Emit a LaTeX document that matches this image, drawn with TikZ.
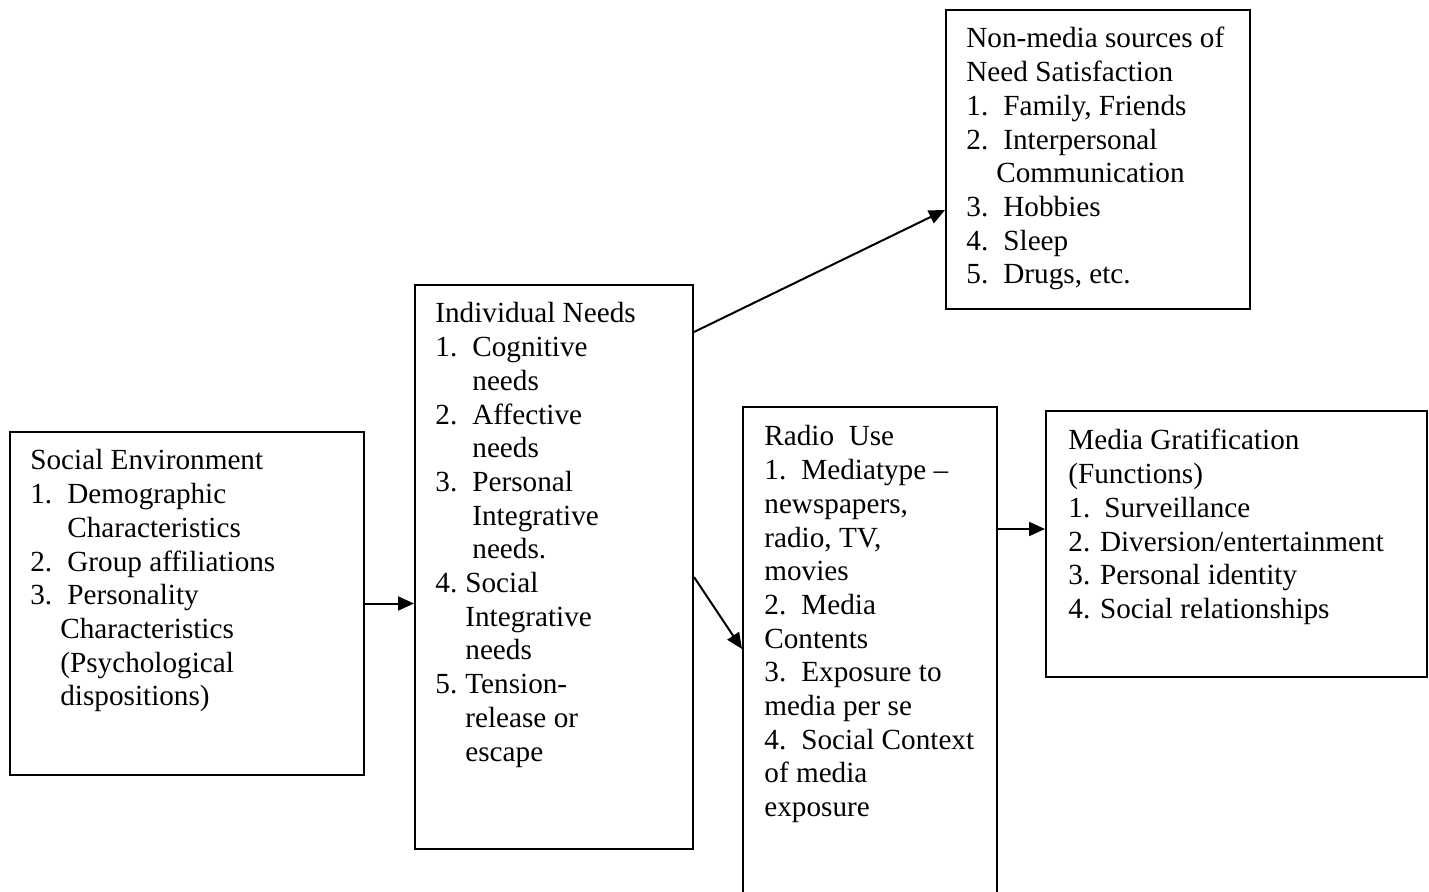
\documentclass[tikz,border=0pt]{standalone}
\usepackage{fontspec}
\setmainfont{Liberation Serif}
\usetikzlibrary{calc,arrows.meta}
\tikzset{
  box/.style={draw, line width=1pt, rectangle, inner sep=0pt},
  txt/.style={anchor=base west, inner sep=0pt, font=\fontsize{14.6}{16.85}\selectfont},
  conn/.style={line width=1pt, -{Triangle[length=8pt,width=7pt]}}
}
\newcommand{\itm}[2][18.5pt]{\makebox[#1][l]{#2}}
\newcommand{\ind}[1][18.5pt]{\hspace*{#1}}
\newcommand{\blk}[1]{\parbox[t]{220pt}{\raggedright\fontsize{14.6}{16.85}\selectfont #1}}
\begin{document}
\begin{tikzpicture}[x=0.5pt,y=-0.5pt]
\clip (0,0) rectangle (1429,892);
\fill[white] (0,0) rectangle (1429,892);
% boxes
\node[box, minimum width=177pt, minimum height=171.5pt] (se) at (187,603.5) {};
\node[box, minimum width=139pt, minimum height=282pt] (in) at (554,567) {};
\node[box, minimum width=152pt, minimum height=149.5pt] (nm) at (1098,159.5) {};
\node[box, minimum width=127pt, minimum height=251.5pt] (ru) at (870,658.5) {};
\node[box, minimum width=190.5pt, minimum height=133pt] (mg) at (1236.5,544) {};
% texts
\node[txt] (setxt) at (30,470) {\blk{Social Environment\\
\itm{1.}Demographic\\
\ind Characteristics\\
\itm{2.}Group affiliations\\
\itm{3.}Personality\\
\ind[15pt]Characteristics\\
\ind[15pt](Psychological\\
\ind[15pt]dispositions)}};
\node[txt] (intxt) at (435,323) {\blk{Individual Needs\\
\itm{1.}Cognitive\\
\ind needs\\
\itm{2.}Affective\\
\ind needs\\
\itm{3.}Personal\\
\ind Integrative\\
\ind needs.\\
\itm[15pt]{4.}Social\\
\ind[15pt]Integrative\\
\ind[15pt]needs\\
\itm[15pt]{5.}Tension-\\
\ind[15pt]release or\\
\ind[15pt]escape}};
\node[txt] (nmtxt) at (966,48) {\blk{Non-media sources of\\
Need Satisfaction\\
\itm{1.}Family, Friends\\
\itm{2.}Interpersonal\\
\ind[15pt]Communication\\
\itm{3.}Hobbies\\
\itm{4.}Sleep\\
\itm{5.}Drugs, etc.}};
\node[txt] (rutxt) at (764,446) {\blk{Radio\ \ Use\\
\itm{1.}Mediatype --\\
newspapers,\\
radio, TV,\\
movies\\
\itm{2.}Media\\
Contents\\
\itm{3.}Exposure to\\
media per se\\
\itm{4.}Social Context\\
of media\\
exposure}};
\node[txt] (mgtxt) at (1068,450) {\blk{Media Gratification\\
(Functions)\\
\itm[18pt]{1.}Surveillance\\
2. Diversion/entertainment\\
3. Personal identity\\
4. Social relationships}};
% connectors
\draw[conn] (se.east) -- (se.east -| in.west);
\coordinate (a1) at ($(in.north east)+(0,48)$);
\coordinate (a2) at ($(nm.north west)+(0,201)$);
\draw[conn] (a1) -- (a2);
\coordinate (b1) at ($(in.north east)+(0,293)$);
\coordinate (b2) at ($(ru.north west)+(0,243)$);
\draw[conn] (b1) -- (b2);
\coordinate (c1) at ($(ru.north east)+(0,123)$);
\draw[conn] (c1) -- (c1 -| mg.west);
\end{tikzpicture}
\end{document}
